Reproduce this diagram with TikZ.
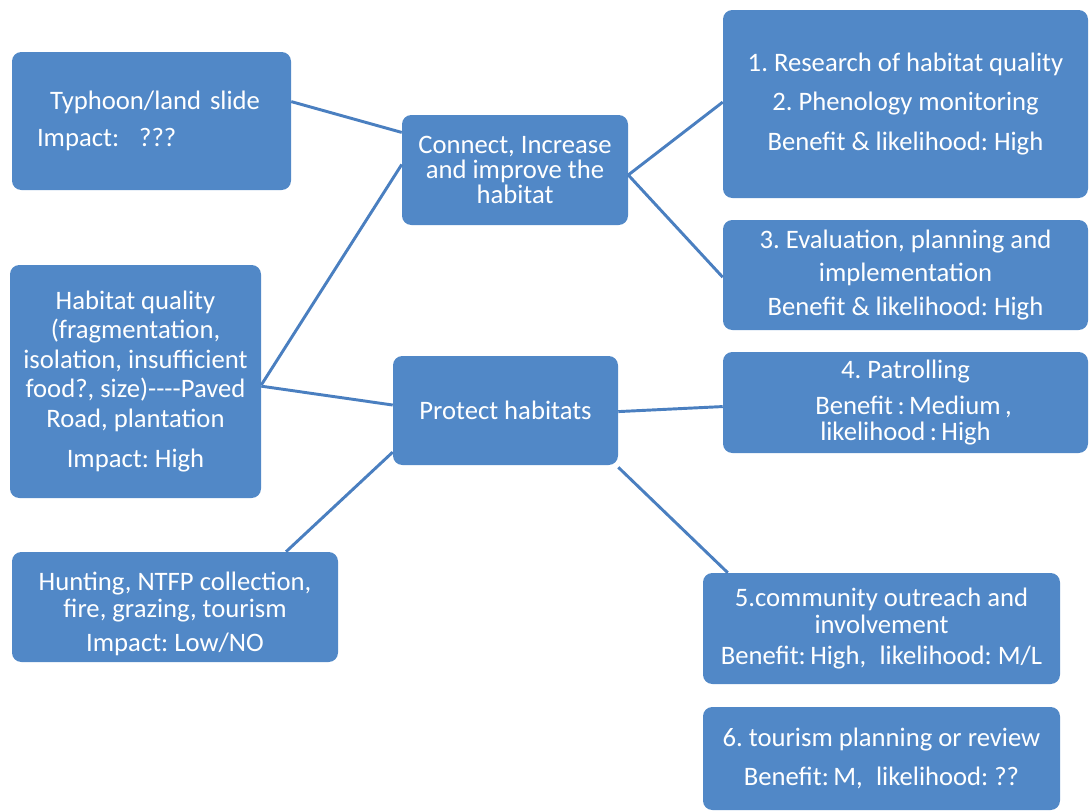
\documentclass[tikz,border=0pt]{standalone}
\usepackage{fontspec}
\setmainfont{Carlito}
\usetikzlibrary{calc}
\definecolor{boxblue}{HTML}{5188C7}
\definecolor{linkblue}{HTML}{4A7FC0}
\frenchspacing

\begin{document}
\begin{tikzpicture}[x=0.75pt, y=-0.75pt,
  box/.style={fill=boxblue, rounded corners=7pt, text=white, align=center, inner sep=0pt,
    font=\fontsize{20}{19.2}\selectfont},
  link/.style={draw=linkblue, line width=2.2pt}]
  \useasboundingbox (0,0) rectangle (1090,811);

  % Bedrohungen (links)
  \node[box, align=left, text width=171.75pt, inner xsep=18.75pt, minimum height=103.5pt] (typh) at (151.5,121)
    {\hspace*{9.75pt}Typhoon/land slide\\[8pt]Impact:\hspace{15pt}???};
  \node[box, minimum width=188.25pt, minimum height=174.75pt] (hab) at (135.5,381.5)
    {Habitat quality\\[3pt](fragmentation,\\[3pt]isolation, insufficient\\[3pt]food?, size)-{}-{}-{}-Paved\\[3pt]Road, plantation\\[11pt]Impact: High};
  \node[box, minimum width=244.5pt, minimum height=82.5pt] (hunt) at (175,607)
    {\rule{0pt}{24pt}Hunting, NTFP collection,\\[1.5pt]fire, grazing, tourism\\[6pt]Impact: Low/NO};

  % Ziele (Mitte)
  \node[box, minimum width=169.5pt, minimum height=82.5pt, font=\fontsize{20}{18.5}\selectfont] (conn) at (515,170)
    {Connect, Increase\\and improve the\\habitat};
  \node[box, minimum width=168.75pt, minimum height=81.75pt] (prot) at (505.5,410.5)
    {Protect habitats};

  % Massnahmen (rechts)
  \node[box, minimum width=273.75pt, minimum height=141pt] (res) at (905.5,104)
    {1. Research of habitat quality\\[10.5pt]2. Phenology monitoring\\[10.5pt]Benefit \& likelihood: High};
  \node[box, minimum width=273.75pt, minimum height=82.5pt] (eval) at (905.5,275)
    {3. Evaluation, planning and\\[6pt]implementation\\[6pt]Benefit \& likelihood: High};
  \node[box, minimum width=273.75pt, minimum height=75.75pt] (patrol) at (905.5,402.5)
    {4. Patrolling\\[7.5pt]\hspace*{12pt}Benefit\,:\,Medium\,,\\[0.5pt]likelihood\,:\,High};
  \node[box, minimum width=267.75pt, minimum height=83.25pt] (comm) at (881.5,628.5)
    {5.community outreach and\\[1.5pt]involvement\\[4pt]Benefit:\,High,\hspace{10pt}likelihood: M/L};
  \node[box, minimum width=267.75pt, minimum height=77.25pt] (tour) at (881.5,758.5)
    {6. tourism planning or review\\[9.5pt]Benefit:\,M,\hspace{10pt}likelihood: ??};

  % Verbindungen
  \draw[link] ($(typh.north east)!0.36!(typh.south east)$) -- ($(conn.north west)!0.16!(conn.south west)$);
  \draw[link] ($(hab.north east)!0.515!(hab.south east)$) -- ($(conn.north west)!0.45!(conn.south west)$);
  \draw[link] ($(hab.north east)!0.52!(hab.south east)$) -- ($(prot.north west)!0.45!(prot.south west)$);
  \draw[link] ($(hunt.north west)!0.84!(hunt.north east)$) -- ($(prot.north west)!0.88!(prot.south west)$);
  \draw[link] ($(conn.north east)!0.545!(conn.south east)$) -- ($(res.north west)!0.49!(res.south west)$);
  \draw[link] ($(conn.north east)!0.545!(conn.south east)$) -- ($(eval.north west)!0.52!(eval.south west)$);
  \draw[link] ($(prot.north east)!0.51!(prot.south east)$) -- ($(patrol.north west)!0.54!(patrol.south west)$);
  \draw[link] ($(prot.south east)+(0,2)$) -- ($(comm.north west)!0.07!(comm.north east)$);
\end{tikzpicture}
\end{document}
